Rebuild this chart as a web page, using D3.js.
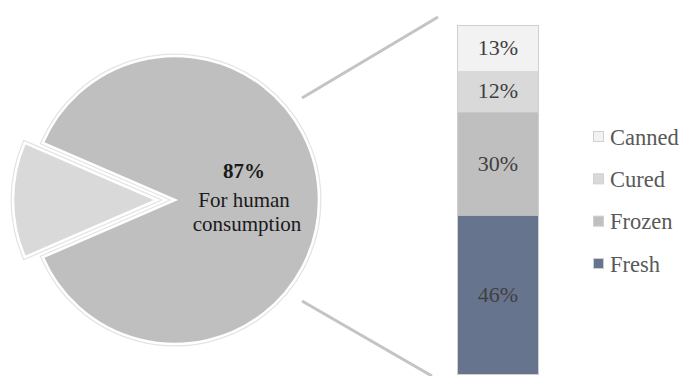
<!DOCTYPE html>
<html>
<head>
<meta charset="utf-8">
<script src="https://cdn.jsdelivr.net/npm/d3@7"></script>
<style>
  html, body { margin: 0; padding: 0; background: #fff; }
</style>
</head>
<body>
<svg id="chart" width="685" height="376"></svg>
<script>
// Share of catch: human consumption vs. other uses
const pieCategories = ["For human consumption", "Other uses"];
const pieValues = [87, 13];
const pieColors = ["#bfbfbf", "#d9d9d9"];

// Breakdown of the human-consumption share
const barCategories = ["Fresh", "Frozen", "Cured", "Canned"];
const barValues = [46, 30, 12, 13];
const barColors = ["#67748e", "#bfbfbf", "#d9d9d9", "#f2f2f2"];
const legendOrder = ["Canned", "Cured", "Frozen", "Fresh"];

const FONT = "Liberation Serif";
const svg = d3.select("#chart");

// ---- Pie ----
const cx = 175, cy = 200, radius = 144, explode = 18;
const pieGen = d3.pie().sort(null)
  .startAngle(-Math.PI / 2 + (pieValues[1] / 100) * Math.PI)
  .endAngle(Math.PI * 1.5 + (pieValues[1] / 100) * Math.PI);
const arcs = pieGen(pieValues);
const arcGen = d3.arc().innerRadius(0).outerRadius(radius);

const pieG = svg.append("g").attr("transform", `translate(${cx},${cy})`);
arcs.forEach((a, i) => {
  const mid = (a.startAngle + a.endAngle) / 2;
  const off = i === 1 ? explode : 0;
  const g = pieG.append("g")
    .attr("transform", `translate(${Math.sin(mid) * off},${-Math.cos(mid) * off})`);
  g.append("path").attr("d", arcGen(a))
    .attr("fill", "none").attr("stroke", "#e4e4e4").attr("stroke-width", 5)
    .attr("stroke-linejoin", "miter");
  g.append("path").attr("d", arcGen(a))
    .attr("fill", pieColors[i]).attr("stroke", "#fff").attr("stroke-width", 2.5)
    .attr("stroke-linejoin", "miter");
});

const pieLabel = svg.append("text").attr("text-anchor", "middle")
  .attr("font-family", FONT).attr("fill", "#1a1a1a").attr("font-size", 21);
pieLabel.append("tspan").attr("x", 244).attr("y", 178)
  .attr("font-weight", "bold").text(pieValues[0] + "%");
pieLabel.append("tspan").attr("x", 244).attr("y", 207).text("For human");
pieLabel.append("tspan").attr("x", 247).attr("y", 231).text("consumption");

// ---- Stacked bar ----
const barX = 458, barW = 80, barTop = 26, barBottom = 374;
const total = d3.sum(barValues);
const y = d3.scaleLinear().domain([0, total]).range([barBottom, barTop]);

// connector lines from the pie to the bar
svg.append("line").attr("x1", 302).attr("y1", 98).attr("x2", 438).attr("y2", 17)
  .attr("stroke", "#c4c4c4").attr("stroke-width", 3);
svg.append("line").attr("x1", 302).attr("y1", 301).attr("x2", 432).attr("y2", 376)
  .attr("stroke", "#c4c4c4").attr("stroke-width", 3);

let cum = 0;
const segs = barValues.map((v, i) => {
  const s = { name: barCategories[i], v, y0: cum, y1: cum + v, color: barColors[i] };
  cum += v;
  return s;
});

const barG = svg.append("g");
barG.append("rect").attr("x", barX - 0.5).attr("y", y(total) - 0.5)
  .attr("width", barW + 1).attr("height", y(0) - y(total) + 1)
  .attr("fill", "none").attr("stroke", "#cfcfcf").attr("stroke-width", 1);
barG.selectAll("rect.seg").data(segs).join("rect").attr("class", "seg")
  .attr("x", barX).attr("width", barW)
  .attr("y", d => y(d.y1)).attr("height", d => y(d.y0) - y(d.y1))
  .attr("fill", d => d.color);
barG.selectAll("text").data(segs).join("text")
  .attr("x", barX + barW / 2)
  .attr("y", d => (y(d.y0) + y(d.y1)) / 2 + 7)
  .attr("text-anchor", "middle").attr("font-family", FONT)
  .attr("font-size", 22).attr("fill", "#404040")
  .text(d => d.v + "%");

// ---- Legend ----
const legY = d3.scalePoint().domain(legendOrder).range([137, 264]);
const leg = svg.append("g").selectAll("g").data(legendOrder).join("g")
  .attr("transform", d => `translate(593,${legY(d)})`);
leg.append("rect").attr("x", 0.5).attr("y", -5.5).attr("width", 10).attr("height", 10)
  .attr("fill", d => barColors[barCategories.indexOf(d)])
  .attr("stroke", "#d0d0d0").attr("stroke-width", 1);
leg.append("text").attr("x", 17).attr("y", 7.5).attr("font-size", 22.5)
  .attr("font-family", FONT).attr("fill", "#595959").text(d => d);
</script>
</body>
</html>
